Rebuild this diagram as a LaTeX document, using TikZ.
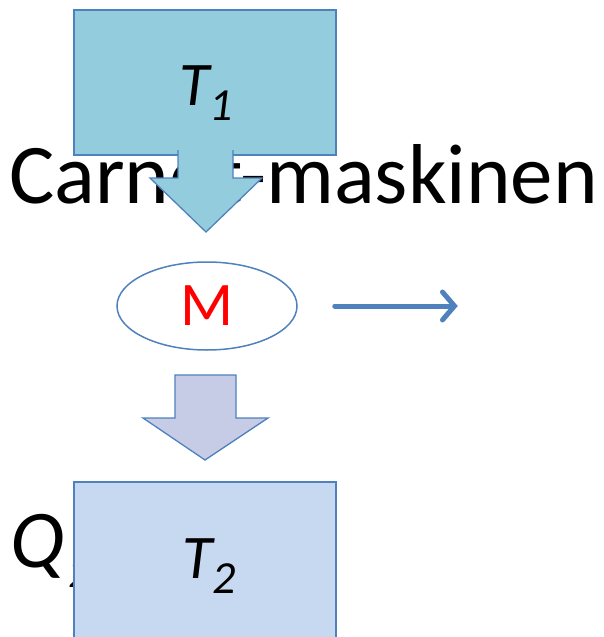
\documentclass[tikz,border=0pt]{standalone}
\usepackage{fontspec}
\setmainfont{Carlito}
\usetikzlibrary{arrows.meta,shapes.geometric}
\definecolor{edgeblue}{HTML}{4F81BD}
\definecolor{hotfill}{HTML}{93CDDD}
\definecolor{coldfill}{HTML}{C6D9F1}
\definecolor{flowfill}{HTML}{C6CBE6}
\tikzset{
  reservoir/.style={draw=edgeblue, line width=1.3pt},
  blockarrow/.style={draw=edgeblue, line width=1.3pt, line join=miter},
  engine/.style={ellipse, draw=edgeblue, line width=1.5pt, fill=white, minimum width=180pt, minimum height=88pt, inner sep=0pt},
  workarrow/.style={draw=edgeblue, line width=5pt, line cap=round, -{Straight Barb[length=12pt,width=28pt,line cap=round]}},
  lbl/.style={inner sep=0pt}
}
\begin{document}
\begin{tikzpicture}[x=1pt,y=-1pt]
\useasboundingbox (0,0) rectangle (604,637);
% title behind everything
\node[lbl, anchor=base west, font=\fontsize{85}{85}\selectfont] (title) at (9,203) {Carnot-maskinen};
% hot reservoir
\fill[hotfill] (74,10) rectangle (336,155);
\draw[reservoir] (74,10) rectangle (336,155);
\node[lbl, font=\fontsize{62}{62}\selectfont\itshape] (T1) at (206,93) {T\raisebox{-15pt}{\fontsize{46}{46}\selectfont 1}};
% arrow from hot reservoir to engine
\draw[blockarrow, fill=hotfill] (178,150) -- (178,178) -- (150,178) -- (206,232) -- (262,178) -- (233,178) -- (233,150);
\fill[hotfill] (179.5,148) rectangle (231.5,156);
% engine
\node[engine] (M) at (207,306) {\fontsize{62}{62}\selectfont\color{red}M};
% work arrow
\draw[workarrow] ([xshift=37pt]M.east) -- ++(123,0) coordinate (W);
% arrow from engine to cold reservoir
\draw[blockarrow, fill=flowfill] (175,375) -- (175,418) -- (143,418) -- (205,460) -- (268,418) -- (236,418) -- (236,375) -- cycle;
% Q label behind cold reservoir
\node[lbl, anchor=base west, font=\fontsize{82}{82}\selectfont\itshape] (Q) at (10,567) {Q\kern4pt\raisebox{-20pt}{\fontsize{46}{46}\selectfont 2}};
% cold reservoir
\fill[coldfill] (74,482) rectangle (336,645);
\draw[reservoir] (74,482) rectangle (336,645);
\node[lbl, font=\fontsize{62}{62}\selectfont\itshape] (T2) at (209,566) {T\raisebox{-15pt}{\fontsize{46}{46}\selectfont 2}};
\end{tikzpicture}
\end{document}
